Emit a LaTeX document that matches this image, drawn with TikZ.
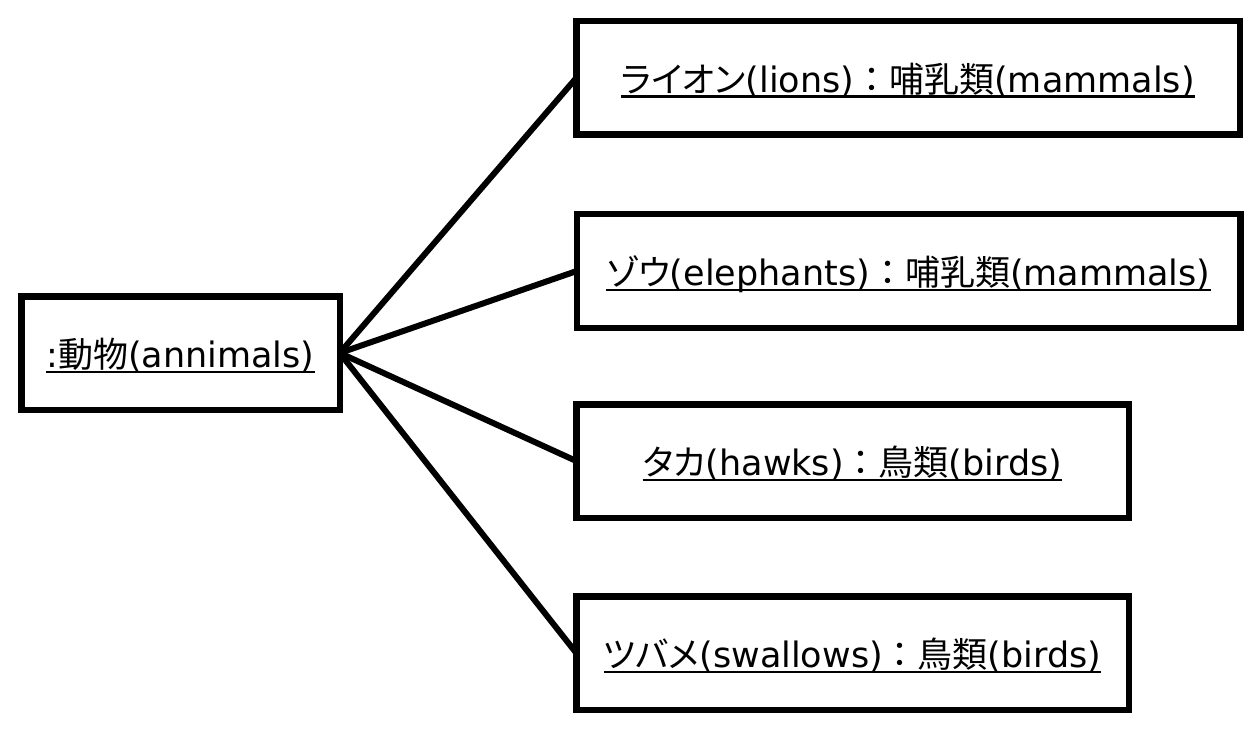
\documentclass[tikz,border=0pt]{standalone}
\usepackage{fontspec}
\setmainfont{DejaVu Sans}
\newfontfamily\jpfont{Noto Sans CJK JP}
\newfontfamily\kanafont[RawFeature=+palt]{Noto Sans CJK JP}
\newcommand\jp[1]{{\jpfont #1}}
\newcommand\kana[1]{{\kanafont #1}}
\newcommand\myul[1]{\sbox0{#1}\rlap{\copy0}\rule[-5.5pt]{\wd0}{2.5pt}}
\begin{document}
\begin{tikzpicture}[x=1pt,y=-1pt,
  box/.style={draw,line width=6.5pt,inner sep=0pt,outer sep=0pt,
    text height=31pt,text depth=2pt,font=\fontsize{35}{40}\selectfont},
  conn/.style={line width=6pt}]
\useasboundingbox (0,0) rectangle (1260,735);
\node[box,minimum width=318.5pt,minimum height=113.5pt] (root) at (180.5,353) {\myul{:\jp{動物}(annimals)}};
\node[box,minimum width=663.5pt,minimum height=113.5pt] (lion) at (908,78) {\myul{\kana{ライオン}(lions)\jp{：哺乳類}(mammals)}};
\node[box,minimum width=663.5pt,minimum height=113.5pt] (eleph) at (908.5,271) {\myul{\kana{ゾウ}(elephants)\jp{：哺乳類}(mammals)}};
\node[box,minimum width=552.5pt,minimum height=113.5pt] (hawk) at (852.5,461) {\myul{\kana{タカ}(hawks)\jp{：鳥類}(birds)}};
\node[box,minimum width=552.5pt,minimum height=113.5pt] (swal) at (852.5,653) {\myul{\kana{ツバメ}(swallows)\jp{：鳥類}(birds)}};
\draw[conn] (root.east) -- (lion.west);
\draw[conn] (root.east) -- (eleph.west);
\draw[conn] (root.east) -- (hawk.west);
\draw[conn] (root.east) -- (swal.west);
\end{tikzpicture}
\end{document}
